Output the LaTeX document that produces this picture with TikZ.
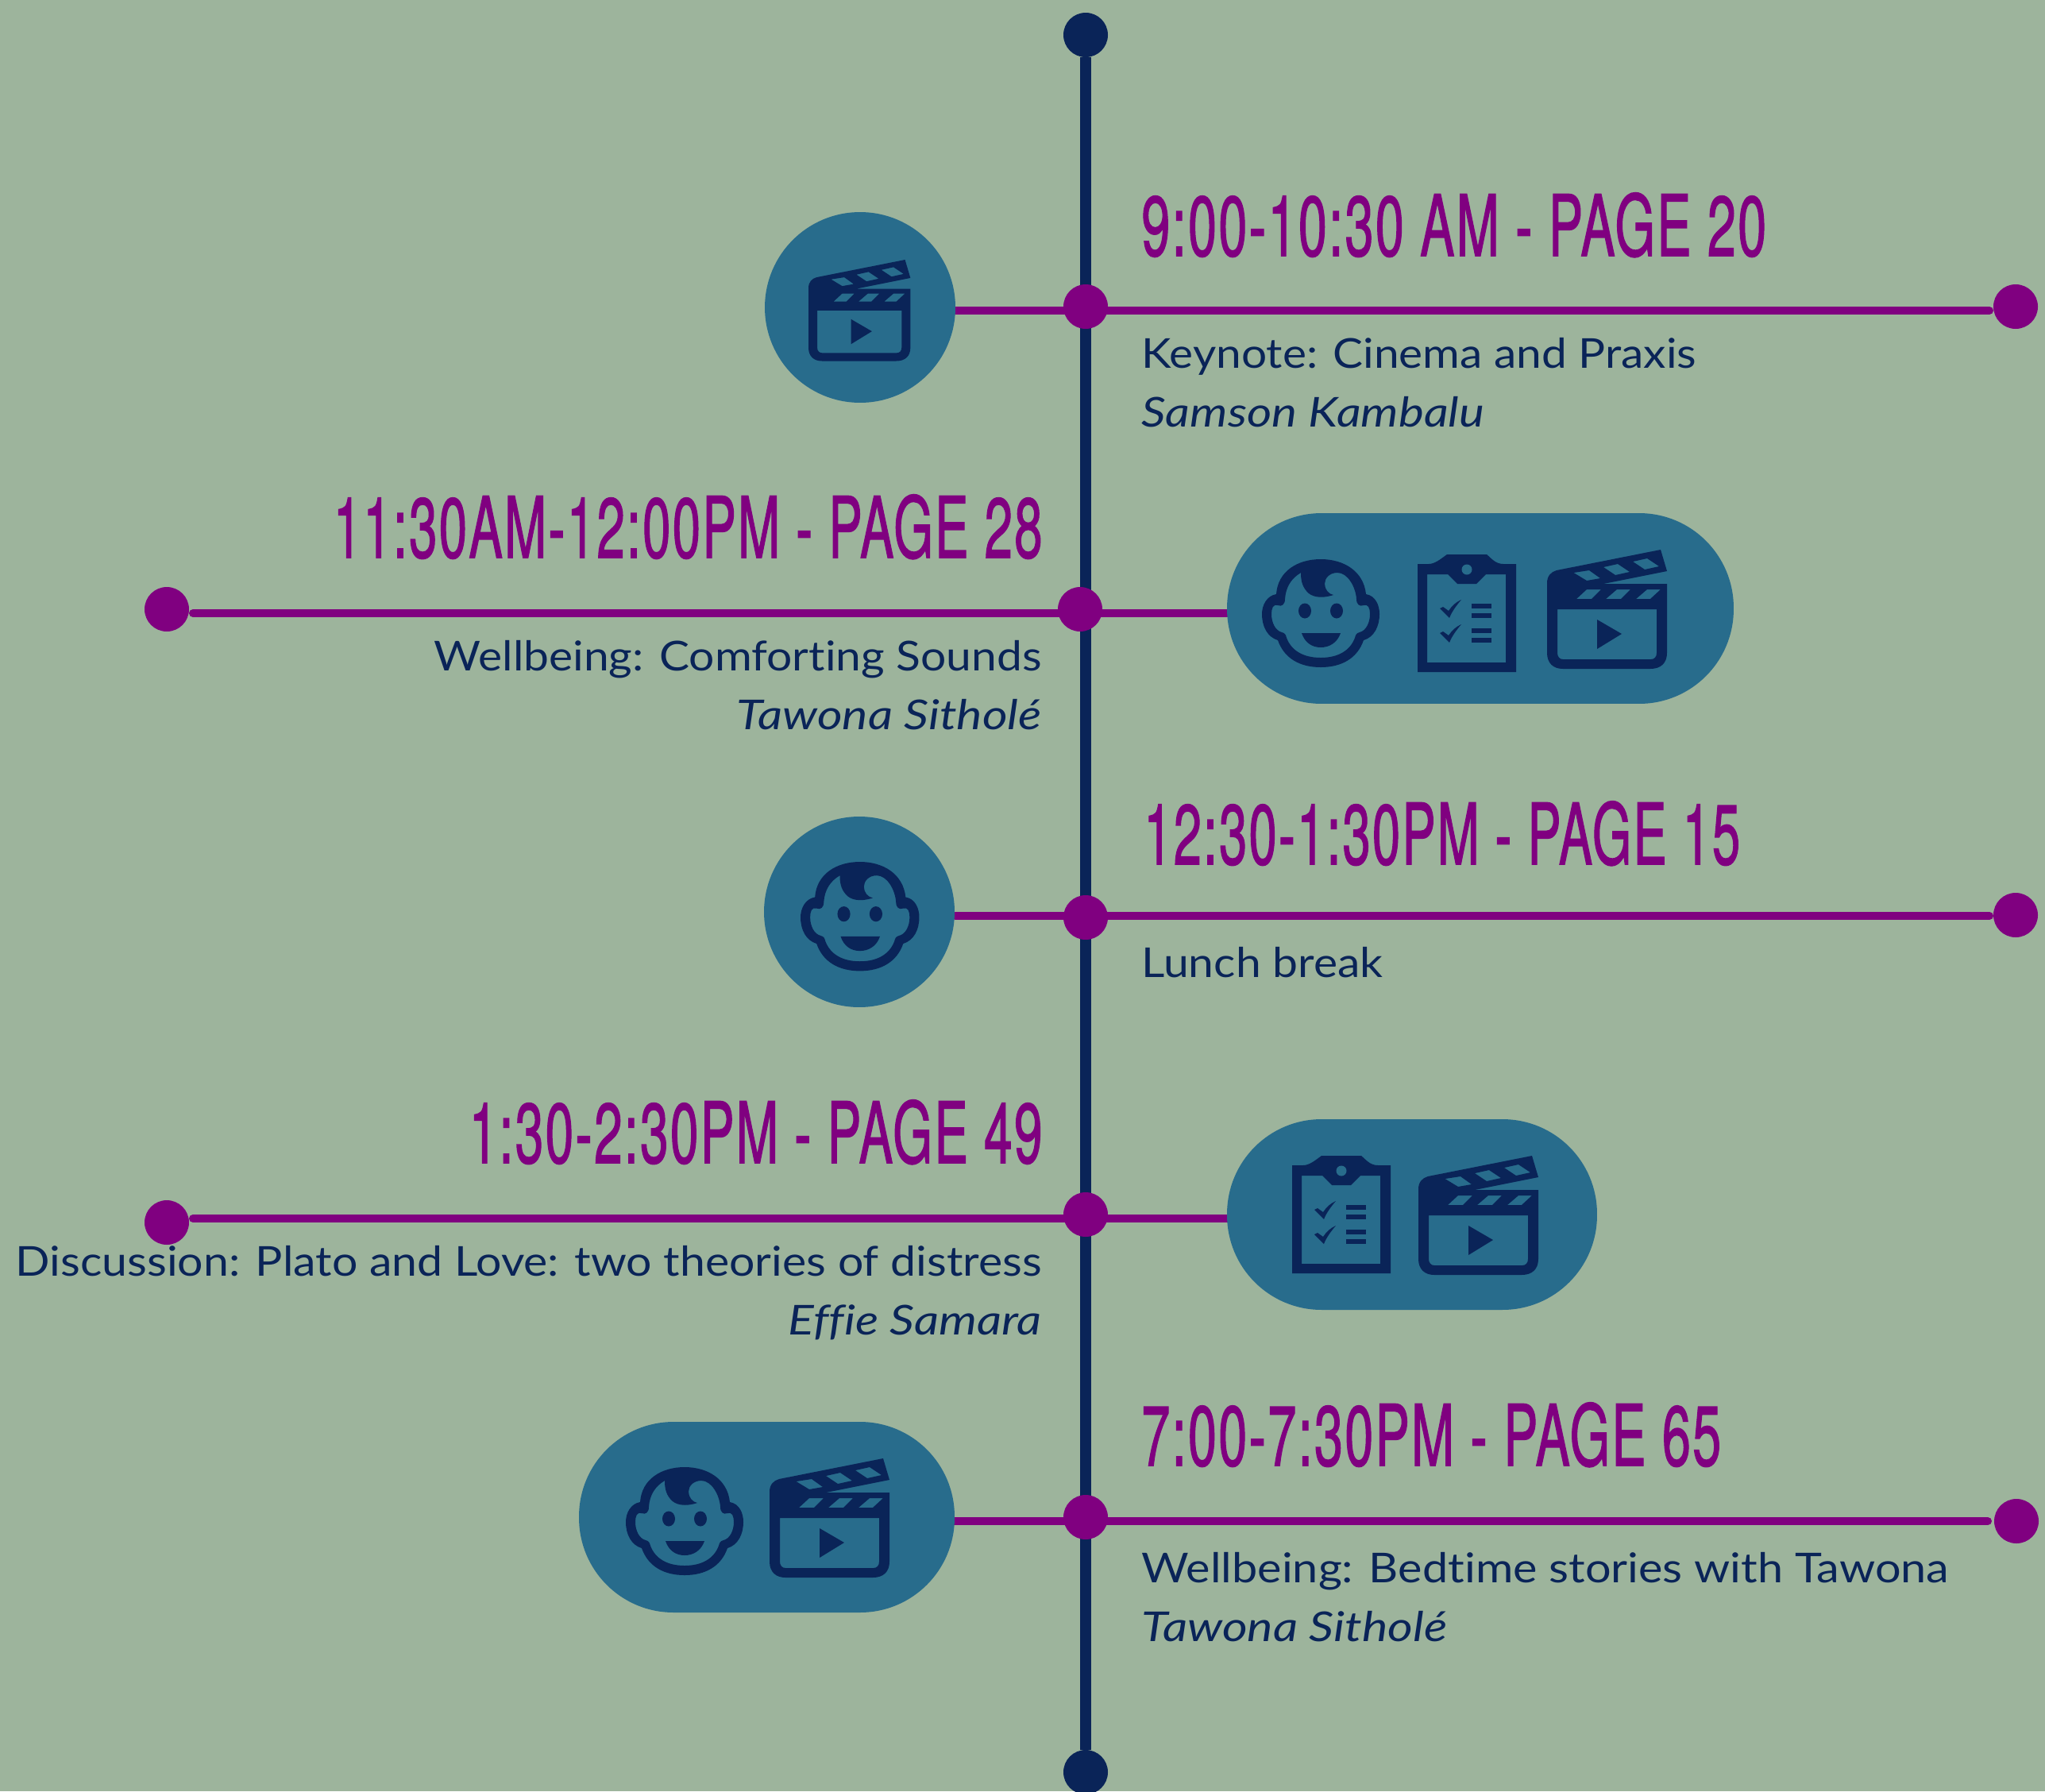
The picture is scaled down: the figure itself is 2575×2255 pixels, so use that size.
\documentclass[tikz,border=0pt]{standalone}
\usepackage{graphicx}
\usepackage{fontspec}
\setmainfont{Lato}[Ligatures=CommonOff]
\newfontfamily\titlefont{TeX Gyre Heros}[FakeBold=1.6,LetterSpace=3.5]
\definecolor{sage}{RGB}{157,180,156}
\definecolor{teal2}{RGB}{40,108,140}
\definecolor{navy2}{RGB}{10,36,88}
\definecolor{purp}{RGB}{128,0,128}
\newsavebox\fitbox
\newcommand\fitw[2]{\sbox\fitbox{#2}\pgfmathsetmacro\fitscale{#1*0.569055/\the\wd\fitbox}\scalebox{\fitscale}[1]{\usebox\fitbox}}
\newcommand\ttl[2]{\fitw{#1}{\titlefont\fontsize{60.5}{60}\selectfont #2}}
\newcommand\bodyt[2]{\fitw{#1}{\color{navy2}\fontsize{29.5}{30}\selectfont #2}}
\newcommand\itt[2]{\fitw{#1}{\color{navy2}\itshape\fontsize{29.5}{30}\selectfont #2}}
\tikzset{
  x=0.02cm,y=-0.02cm,
  spine/.style={draw=navy2,line width=0.28cm},
  branch/.style={draw=purp,line width=0.2cm,line cap=round},
  enddot/.style={circle,fill=navy2,inner sep=0pt,minimum size=1.12cm},
  hub/.style={circle,fill=purp,inner sep=0pt,minimum size=1.12cm},
  badge/.style={circle,fill=teal2,inner sep=0pt,minimum size=4.8cm},
  pill/.style={rectangle,fill=teal2,inner sep=0pt,rounded corners=2.38cm,minimum height=4.8cm},
  titlel/.style={inner sep=0pt,text=purp,anchor=base west},
  titler/.style={inner sep=0pt,text=purp,anchor=base east},
  textl/.style={inner sep=0pt,anchor=base west},
  textr/.style={inner sep=0pt,anchor=base east},
  clapper/.pic={
    \fill[navy2,even odd rule]
      (143,0) -- (151,27) -- (71,43) -- (151,43) -- (151,130)
      .. controls (151,143) and (143,150) .. (130,150) -- (20,150)
      .. controls (8,150) and (0,143) .. (0,130) -- (0,42)
      .. controls (0,33) and (5,28) .. (12,26) -- cycle
      (13,75) -- (138,75) -- (138,130) .. controls (138,135) and (135,138) .. (131,138)
      -- (20,138) .. controls (16,138) and (13,135) .. (13,130) -- cycle
      (37,62) -- (50,50) -- (68,50) -- (56,62) -- cycle
      (74,62) -- (88,50) -- (105,50) -- (93,62) -- cycle
      (112,62) -- (126,50) -- (143,50) -- (130,62) -- cycle
      (33.5,29) -- (53,26) -- (67,36) -- (50,39) -- cycle
      (71,22) -- (89,18) -- (104,28) -- (86,32) -- cycle
      (108,15) -- (126,11) -- (141,21) -- (123,25) -- cycle
      (63,88) -- (94,106) -- (63,125) -- cycle;
  },
  baby/.pic={
    \fill[navy2,even odd rule]
      (18,44) .. controls (20,15) and (45,0) .. (74,0)
      .. controls (103,0) and (128,15) .. (131,44)
      .. controls (143,46) and (148,58) .. (148,69)
      .. controls (148,85) and (141,98) .. (128,102)
      .. controls (120,125) and (100,136) .. (74,136)
      .. controls (48,136) and (28,125) .. (20,102)
      .. controls (7,98) and (0,85) .. (0,69)
      .. controls (0,58) and (6,46) .. (18,44) -- cycle
      (49,17) .. controls (37,24) and (30,35) .. (29,50)
      .. controls (29,57) and (25,60) .. (20,58)
      .. controls (14,56) and (12,62) .. (12,69)
      .. controls (12,80) and (17,90) .. (25,92)
      .. controls (29,93) and (30,95) .. (31,99)
      .. controls (37,115) and (52,124) .. (74,124)
      .. controls (96,124) and (111,115) .. (117,99)
      .. controls (118,95) and (119,93) .. (123,92)
      .. controls (131,90) and (136,80) .. (136,69)
      .. controls (136,62) and (134,56) .. (128,58)
      .. controls (123,60) and (119,57) .. (119,50)
      .. controls (118,35) and (108,17) .. (95,17)
      .. controls (85,17) and (79,24) .. (79,31)
      .. controls (79,38) and (84,44) .. (90,45)
      .. controls (75,50) and (62,48) .. (56,40)
      .. controls (50,33) and (49,25) .. (49,17) -- cycle;
    \fill[navy2] (54,65) ellipse [x radius=8,y radius=9.5];
    \fill[navy2] (94,65) ellipse [x radius=8,y radius=9.5];
    \fill[navy2] (50,93) -- (99,93) .. controls (95,105) and (85,111) .. (74,111) .. controls (63,111) and (54,105) .. (50,93) -- cycle;
  },
  clipb/.pic={
    \fill[navy2,even odd rule]
      (0,12) -- (14,12) .. controls (22,12) and (30,5) .. (37,0) -- (87,0)
      .. controls (93,5) and (98,12) .. (108,12) -- (124,12) -- (124,148) -- (0,148) -- cycle
      (12,25) -- (38,25) -- (50,37) -- (74,37) -- (86,25) -- (111,25) -- (111,136) -- (12,136) -- cycle;
    \fill[teal2] (62,19) ellipse [x radius=6.5,y radius=6.5];
    \fill[navy2] (28,68) -- (32,66) -- (39,71) .. controls (43,65) and (48,60) .. (55,57) .. controls (49,64) and (43,72) .. (40,80) -- cycle;
    \fill[navy2] (28,99) -- (32,97) -- (39,102) .. controls (43,96) and (48,91) .. (55,88) .. controls (49,95) and (43,103) .. (40,111) -- cycle;
    \fill[navy2] (68,62) rectangle (93,68);
    \fill[navy2] (68,74) rectangle (93,80);
    \fill[navy2] (68,93) rectangle (93,99);
    \fill[navy2] (68,105) rectangle (93,111);
  }
}
\begin{document}
\begin{tikzpicture}
\useasboundingbox (0,0) rectangle (2575,2255);
\fill[sage] (0,0) rectangle (2575,2255);

% named anchors for the branch lines
\coordinate (b1a) at (1203,391); \coordinate (b1b) at (2505,391);
\coordinate (b2a) at (243,772);  \coordinate (b2b) at (1560,772);
\coordinate (b3a) at (1203,1153); \coordinate (b3b) at (2505,1153);
\coordinate (b4a) at (243,1534); \coordinate (b4b) at (1560,1534);
\coordinate (b5a) at (1190,1915); \coordinate (b5b) at (2503,1915);

\node[enddot] (top) at (1367,44) {};
\node[enddot] (bot) at (1367,2231) {};
\draw[spine] (top) -- (bot);

\draw[branch] (b1a) -- (b1b);
\draw[branch] (b2a) -- (b2b);
\draw[branch] (b3a) -- (b3b);
\draw[branch] (b4a) -- (b4b);
\draw[branch] (b5a) -- (b5b);

\node[hub] (h1) at (1367,386) {};
\node[hub] (e1) at (2538,386) {};
\node[hub] (h2) at (1360,767) {};
\node[hub] (e2) at (210,767) {};
\node[hub] (h3) at (1367,1155) {};
\node[hub] (e3) at (2538,1152) {};
\node[hub] (h4) at (1367,1529) {};
\node[hub] (e4) at (210,1539) {};
\node[hub] (h5) at (1367,1910) {};
\node[hub] (e5) at (2539,1915) {};

\node[badge] (c1) at (1083,387) {};
\pic[xscale=0.85,yscale=0.85] (ic1) at (1018,327) {clapper};
\node[pill,minimum width=12.76cm] (p2) at (1864,766) {};
\pic (ic2a) at (1589,704) {baby};
\pic (ic2b) at (1785,698) {clipb};
\pic (ic2c) at (1948,692) {clapper};
\node[badge] (c3) at (1082,1148) {};
\pic[xscale=1.01,yscale=1.01] (ic3) at (1008,1085) {baby};
\node[pill,minimum width=9.32cm] (p4) at (1778,1529) {};
\pic (ic4a) at (1627,1455) {clipb};
\pic (ic4b) at (1786,1455) {clapper};
\node[pill,minimum width=9.46cm] (p5) at (965.5,1910) {};
\pic (ic5a) at (788,1847) {baby};
\pic (ic5b) at (969,1836) {clapper};

\node[titlel] (t1) at (1437,322) {\ttl{787}{9:00-10:30 AM - PAGE 20}};
\node[textl] (s1) at (1437,463) {\bodyt{699}{Keynote: Cinema and Praxis}};
\node[textl] (a1) at (1437,537) {\itt{432}{Samson Kambalu}};

\node[titler] (t2) at (1313,702) {\ttl{893}{11:30AM-12:00PM - PAGE 28}};
\node[textr] (s2) at (1312,844) {\bodyt{765}{Wellbeing: Comforting Sounds}};
\node[textr] (a2) at (1312,918) {\itt{384}{Tawona Sitholé}};

\node[titlel] (t3) at (1440,1088) {\ttl{751}{12:30-1:30PM - PAGE 15}};
\node[textl] (s3) at (1437,1230) {\bodyt{304}{Lunch break}};

\node[titler] (t4) at (1313,1464) {\ttl{722}{1:30-2:30PM - PAGE 49}};
\node[textr] (s4) at (1312,1606) {\bodyt{1292}{Discussion: Plato and Love: two theories of distress}};
\node[textr] (a4) at (1312,1680) {\itt{319}{Effie Samara}};

\node[titlel] (t5) at (1437,1845) {\ttl{730}{7:00-7:30PM - PAGE 65}};
\node[textl] (s5) at (1437,1992) {\bodyt{1017}{Wellbeing: Bedtime stories with Tawona}};
\node[textl] (a5) at (1437,2066) {\itt{385}{Tawona Sitholé}};
\end{tikzpicture}
\end{document}
